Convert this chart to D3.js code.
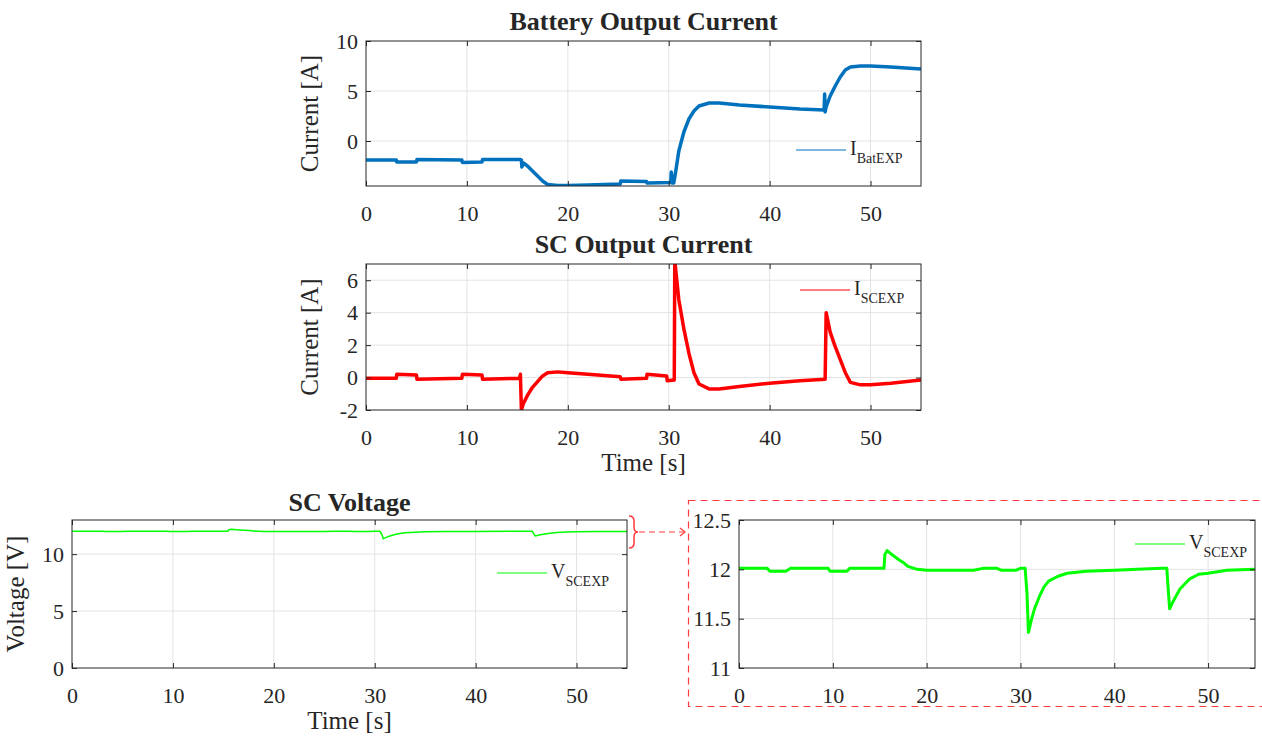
<!DOCTYPE html>
<html lang="en">
<head>
<meta charset="utf-8">
<title>Battery / SC currents and SC voltage</title>
<script src="https://d3js.org/d3.v7.min.js"></script>
<style>
  body { margin: 0; background: #fff; }
  svg text { font-family: "Liberation Serif", "Times New Roman", serif; fill: #262626; }
</style>
</head>
<body>
<svg id="chart" width="1262" height="736"></svg>
<script>
// data: [time s, value]
const batCurrent = [[0,-1.9],[3,-1.9],[3.05,-2.1],[5,-2.1],[5.05,-1.85],[9.5,-1.9],[9.55,-2.15],[11.5,-2.1],[11.55,-1.85],
  [15.3,-1.85],[15.4,-1.9],[15.45,-2.6],[15.6,-2.2],[16,-2.5],[16.5,-3.0],[17,-3.5],[17.5,-4.0],[18,-4.35],[19,-4.45],
  [20,-4.45],[22,-4.4],[25.2,-4.3],[25.25,-4.0],[27.8,-4.05],[27.85,-4.2],[30.2,-4.15],[30.25,-3.1],[30.35,-4.2],[30.5,-4.2],
  [30.7,-3.0],[31,-1.0],[31.5,0.9],[32,2.2],[32.5,3.0],[33,3.5],[34,3.8],[35,3.8],[37,3.6],[40,3.4],[43,3.2],[45.4,3.1],
  [45.45,4.7],[45.5,2.9],[45.6,3.4],[46,4.5],[46.5,5.5],[47,6.4],[47.5,7.1],[48,7.4],[49,7.5],[50,7.5],[52,7.4],[55,7.2]];

const scCurrent = [[0,-0.05],[3,-0.05],[3.05,0.2],[5,0.15],[5.05,-0.1],[9.5,-0.05],[9.55,0.2],[11.5,0.15],[11.55,-0.1],
  [15.2,-0.05],[15.3,0.2],[15.4,-2.0],[15.6,-1.6],[16,-1.1],[16.5,-0.6],[17,-0.25],[17.5,0.1],[18,0.3],[19,0.35],[20,0.3],
  [22,0.2],[25.2,0.05],[25.25,-0.1],[27.8,-0.05],[27.85,0.2],[29.8,0.1],[29.85,-0.2],[30.55,-0.15],[30.6,7.2],[30.8,6.0],
  [31,4.8],[31.5,3.0],[32,1.5],[32.5,0.3],[33,-0.4],[34,-0.7],[35,-0.7],[37,-0.55],[40,-0.35],[43,-0.2],[45.5,-0.1],
  [45.6,4.0],[45.8,3.4],[46,2.8],[46.5,1.9],[47,1.1],[47.5,0.3],[48,-0.3],[49,-0.45],[50,-0.45],[52,-0.35],[55,-0.15]];

const scVoltage = [[0,12.01],[3,12.01],[3.3,11.98],[5,11.98],[5.5,12.01],[9.5,12.01],[9.7,11.98],[11.5,11.98],[11.8,12.01],
  [15.45,12.01],[15.55,12.15],[15.8,12.19],[16.3,12.15],[17,12.1],[17.5,12.07],[18,12.03],[19,12.0],[20,11.99],[25,11.99],
  [26,12.01],[27.5,12.01],[28,11.99],[29.5,11.99],[30,12.01],[30.5,12.01],[30.7,11.75],[30.85,11.36],[31.2,11.5],[31.5,11.6],
  [32,11.72],[32.5,11.82],[33,11.88],[34,11.93],[35,11.96],[37,11.98],[40,11.99],[45,12.01],[45.6,12.01],[45.75,11.8],
  [45.9,11.6],[46.3,11.68],[47,11.8],[48,11.9],[49,11.95],[50,11.96],[52,11.99],[55,12.0]];

const timeTicks = [0, 10, 20, 30, 40, 50];
const batTicks = [0, 5, 10];
const scTicks = [-2, 0, 2, 4, 6];
const voltTicks = [0, 5, 10];
const zoomTicks = [11, 11.5, 12, 12.5];

const svg = d3.select("#chart");

function panel(o) {
  const g = svg.append("g").attr("transform", `translate(${o.left},${o.top})`);
  const x = d3.scaleLinear().domain([0, 55]).range([0, o.w]);
  const y = d3.scaleLinear().domain(o.yDomain).range([o.h, 0]);

  // grid
  g.append("g").selectAll("line").data(timeTicks.filter(d => d > 0)).join("line")
    .attr("x1", d => x(d)).attr("x2", d => x(d)).attr("y1", 0).attr("y2", o.h)
    .attr("stroke", "#e3e3e3");
  g.append("g").selectAll("line").data(o.yTicks.filter(d => y(d) > 1 && y(d) < o.h - 1)).join("line")
    .attr("x1", 0).attr("x2", o.w).attr("y1", d => y(d)).attr("y2", d => y(d))
    .attr("stroke", "#e3e3e3");

  // data line
  const clipId = "clip" + o.id;
  g.append("clipPath").attr("id", clipId).append("rect").attr("width", o.w).attr("height", o.h);
  g.append("path").datum(o.data)
    .attr("clip-path", `url(#${clipId})`)
    .attr("fill", "none").attr("stroke", o.color).attr("stroke-width", o.sw)
    .attr("stroke-linejoin", "round")
    .attr("d", d3.line().x(d => x(d[0])).y(d => y(d[1])));

  // axes, ticks pointing inward on all four sides
  const fmt = d => String(d);
  const bottom = g.append("g").attr("transform", `translate(0,${o.h})`)
    .call(d3.axisBottom(x).tickValues(timeTicks).tickSize(-5).tickPadding(19).tickFormat(fmt));
  const left = g.append("g")
    .call(d3.axisLeft(y).tickValues(o.yTicks).tickSize(-5).tickPadding(8).tickFormat(fmt));
  g.append("g").call(d3.axisTop(x).tickValues(timeTicks).tickSize(-5).tickFormat(""));
  g.append("g").attr("transform", `translate(${o.w},0)`)
    .call(d3.axisRight(y).tickValues(o.yTicks).tickSize(-5).tickFormat(""));
  g.selectAll(".domain").remove();
  g.selectAll(".tick line").attr("stroke", "#262626");
  g.selectAll(".tick text").attr("font-size", 22).attr("fill", "#262626")
    .style("font-family", '"Liberation Serif", serif');
  g.append("rect").attr("width", o.w).attr("height", o.h)
    .attr("fill", "none").attr("stroke", "#262626").attr("stroke-width", 1);

  if (o.title) {
    g.append("text").attr("x", o.w / 2).attr("y", o.titleY)
      .attr("text-anchor", "middle").attr("font-size", 26).attr("font-weight", "bold")
      .text(o.title);
  }
  if (o.yLabel) {
    g.append("text").attr("transform", `translate(${o.yLabelX},${o.h / 2}) rotate(-90)`)
      .attr("text-anchor", "middle").attr("font-size", 25).text(o.yLabel);
  }
  if (o.xLabel) {
    g.append("text").attr("x", o.w / 2).attr("y", o.h + 61)
      .attr("text-anchor", "middle").attr("font-size", 25).text(o.xLabel);
  }

  // legend (no box)
  const lg = g.append("g").attr("transform", `translate(${o.legX},${o.legY})`);
  lg.append("line").attr("x1", 0).attr("x2", 50).attr("y1", 0).attr("y2", 0)
    .attr("stroke", o.color).attr("stroke-width", 1.2);
  const t = lg.append("text").attr("x", 54).attr("y", 5).attr("font-size", 20);
  t.append("tspan").text(o.legMain);
  t.append("tspan").attr("dy", 8).attr("font-size", 14).text(o.legSub);
}

panel({ id: "bat", left: 366, top: 41, w: 555, h: 145, yDomain: [-4.5, 10], yTicks: batTicks,
  data: batCurrent, color: "#0072BD", sw: 3.5, title: "Battery Output Current", titleY: -11,
  yLabel: "Current [A]", yLabelX: -48, legX: 430, legY: 109, legMain: "I", legSub: "BatEXP" });

panel({ id: "sc", left: 366, top: 264, w: 555, h: 146, yDomain: [-2, 7], yTicks: scTicks,
  data: scCurrent, color: "#FF0000", sw: 3.5, title: "SC Output Current", titleY: -11,
  yLabel: "Current [A]", yLabelX: -48, xLabel: "Time [s]", legX: 434, legY: 26, legMain: "I", legSub: "SCEXP" });

panel({ id: "volt", left: 72, top: 520, w: 555, h: 148, yDomain: [0, 13], yTicks: voltTicks,
  data: scVoltage, color: "#00FF00", sw: 1.5, title: "SC Voltage", titleY: -9,
  yLabel: "Voltage [V]", yLabelX: -48, xLabel: "Time [s]", legX: 425, legY: 53, legMain: "V", legSub: "SCEXP" });

panel({ id: "zoom", left: 739, top: 520, w: 516, h: 148, yDomain: [11, 12.5], yTicks: zoomTicks,
  data: scVoltage, color: "#00FF00", sw: 3, legX: 396, legY: 24, legMain: "V", legSub: "SCEXP" });

// zoom callout: brace, dashed arrow and dashed frame
const red = "#ff3b3b";
svg.append("path")
  .attr("d", "M629,516 Q634,516 634,521 L634,527 Q634,532 638,532 Q634,532 634,537 L634,543 Q634,548 629,548")
  .attr("fill", "none").attr("stroke", red).attr("stroke-width", 1.5);
svg.append("line").attr("x1", 639).attr("x2", 684).attr("y1", 532).attr("y2", 532)
  .attr("stroke", red).attr("stroke-width", 1.2).attr("stroke-dasharray", "6,4");
svg.append("path").attr("d", "M680,528 L685,532 L680,536")
  .attr("fill", "none").attr("stroke", red).attr("stroke-width", 1.2);
svg.append("rect").attr("x", 688.5).attr("y", 500.5).attr("width", 600).attr("height", 206)
  .attr("fill", "none").attr("stroke", red).attr("stroke-width", 1.2).attr("stroke-dasharray", "7,5");
</script>
</body>
</html>
